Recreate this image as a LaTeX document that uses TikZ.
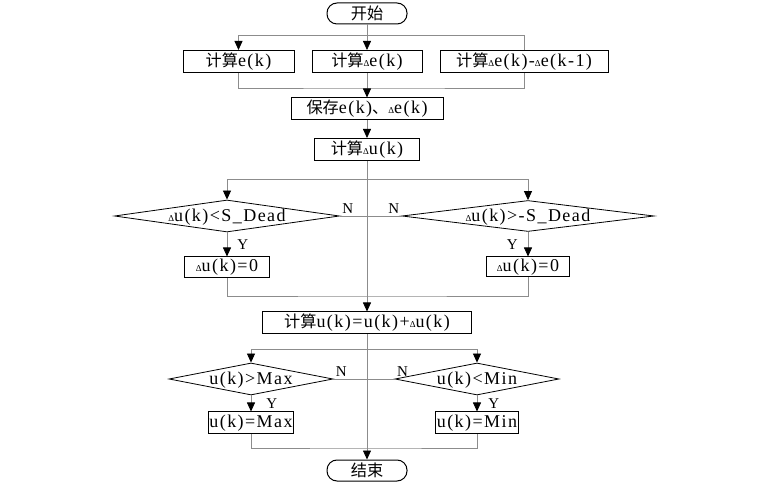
\documentclass[tikz,border=0pt]{standalone}
\usepackage{fontspec}
\setmainfont[LetterSpace=8]{Liberation Serif}
\newfontfamily\cjk[Scale=0.9]{Noto Sans CJK SC}
\usetikzlibrary{arrows.meta,shapes.geometric}
\newcommand\dlt{{\fontsize{9}{9}\selectfont Δ}}

\begin{document}
\begin{tikzpicture}[x=1pt,y=1pt]
\tikzstyle{every node}=[font=\fontsize{18}{20}\selectfont]
\tikzstyle{fcbox}=[draw,line width=1pt,minimum height=22pt,inner sep=1pt]
\tikzstyle{fcterm}=[draw,line width=1pt,rounded corners=10pt,minimum width=80pt,minimum height=21pt,inner sep=1pt]
\tikzstyle{fcdiam}=[diamond,draw,line width=0.8pt,inner sep=0pt,text height=12pt,text depth=1pt]
\tikzstyle{fcline}=[draw=black!45,line width=0.8pt]
\tikzstyle{fcflow}=[fcline,-{Triangle[length=9pt,width=8pt,color=black]}]
\tikzstyle{fclabel}=[font=\fontsize{15}{17}\selectfont,inner sep=2pt]

\useasboundingbox (0,0) rectangle (771,482);

%% Start and the three sums
\node[fcterm] (start) at (367,468.5) {\cjk 开始};
\node[fcbox,minimum width=111pt] (ek) at (238.5,420.5) {{\cjk 计算}e(k)};
\node[fcbox,minimum width=110pt] (dek) at (367,420.5) {{\cjk 计算}\dlt e(k)};
\node[fcbox,minimum width=168pt] (ddek) at (524,420.5) {{\cjk 计算}\dlt e(k)-\dlt e(k-1)};
\node[fcbox,minimum width=152pt] (save) at (367,373) {{\cjk 保存}e(k){\cjk 、}\dlt e(k)};
\node[fcbox,minimum width=105pt] (du) at (367,332.5) {{\cjk 计算}\dlt u(k)};

%% Dead zone tests
\node[fcdiam,minimum width=225pt,minimum height=32pt,aspect=7] (dlow) at (227,266) {\dlt u(k)<S\_Dead};
\node[fcdiam,minimum width=252pt,minimum height=31pt,aspect=8.1] (dhigh) at (528,266) {\dlt u(k)>-S\_Dead};
\node[fcbox,minimum width=85pt,minimum height=21pt] (zlow) at (227,214.5) {\dlt u(k)=0};
\node[fcbox,minimum width=83pt,minimum height=20pt] (zhigh) at (528,215) {\dlt u(k)=0};

%% Output update and limits
\node[fcbox,minimum width=209pt] (uk) at (367,159) {{\cjk 计算}u(k)=u(k)+\dlt u(k)};
\node[fcdiam,minimum width=164pt,minimum height=32pt,aspect=5.1] (dmax) at (251,103) {u(k)>Max};
\node[fcdiam,minimum width=164pt,minimum height=32pt,aspect=5.1] (dmin) at (477,103) {u(k)<Min};
\node[fcbox,minimum width=83pt] (umax) at (251,59) {u(k)=Max};
\node[fcbox,minimum width=83pt] (umin) at (477,59) {u(k)=Min};
\node[fcterm] (stop) at (367,11.5) {\cjk 结束};

%% Junction points on the main line
\coordinate (forkA) at (367,447);
\coordinate (joinA) at (367,394);
\coordinate (forkB) at (367,303);
\coordinate (midB) at (367,266);
\coordinate (joinB) at (367,186);
\coordinate (forkC) at (367,133);
\coordinate (midC) at (367,103);
\coordinate (joinC) at (367,34);

%% Connectors
\draw[fcflow] (start) -- (dek);
\draw[fcflow] (forkA) -| (ek.north);
\draw[fcline] (forkA) -| (ddek.north);
\draw[fcline] (ek.south) |- (joinA) -| (ddek.south);
\draw[fcflow] (dek) -- (save);
\draw[fcflow] (save) -- (du);
\draw[fcflow] (du) -- (uk);
\draw[fcflow] (forkB) -| (dlow.north);
\draw[fcflow] (forkB) -| (dhigh.north);
\draw[fcline] (dlow.east) -- (midB) node[fclabel,pos=0,above right] {N};
\draw[fcline] (dhigh.west) -- (midB) node[fclabel,pos=0,above left] {N};
\draw[fcflow] (dlow) -- (zlow) node[fclabel,midway,right=8pt] {Y};
\draw[fcflow] (dhigh) -- (zhigh) node[fclabel,midway,left=8pt] {Y};
\draw[fcline] (zlow.south) |- (joinB) -| (zhigh.south);
\draw[fcflow] (uk) -- (stop);
\draw[fcflow] (forkC) -| (dmax.north);
\draw[fcflow] (forkC) -| (dmin.north);
\draw[fcline] (dmax.east) -- (midC) node[fclabel,pos=0,above right] {N};
\draw[fcline] (dmin.west) -- (midC) node[fclabel,pos=0,above right] {N};
\draw[fcflow] (dmax) -- (umax) node[fclabel,midway,right=13pt] {Y};
\draw[fcflow] (dmin) -- (umin) node[fclabel,midway,right=9pt] {Y};
\draw[fcline] (umax.south) |- (joinC) -| (umin.south);
\end{tikzpicture}
\end{document}
